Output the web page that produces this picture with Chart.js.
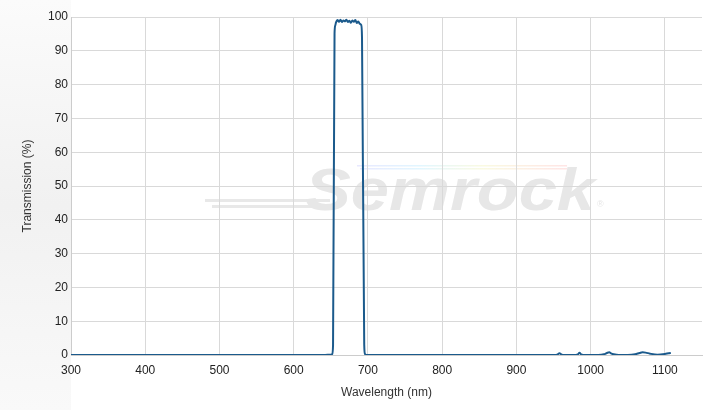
<!DOCTYPE html>
<html>

<head>
  <meta charset="UTF-8">
  <script src="https://cdn.jsdelivr.net/npm/chart.js"></script>
  <title>Semrock | Transmission</title>
  <style>
    html, body { margin: 0; padding: 0; background: #fff; }
    #grafico { width: 706px; height: 410px; }
  </style>
</head>

<body>
  <div id="grafico">
    <canvas id="myChart"></canvas>
  </div>
</body>

</html>

<script>
  // valores
  var wavelength = [300, 400, 500, 600, 640, 650, 652, 653, 655, 656, 657, 659, 661, 663, 665, 667, 669,
    671, 673, 675, 677, 679, 681, 683, 685, 687, 689, 691, 692, 695, 696, 699, 750, 800, 900, 950,
    955, 958, 961, 965, 980, 983, 985, 987, 990, 1010, 1018, 1022, 1025, 1028, 1035, 1050, 1060, 1066, 1070,
    1074, 1080, 1090, 1100, 1105, 1108];

  var transmission = [0, 0, 0, 0, 0, 0.1, 0.3, 3, 95, 97.5, 98.4, 99.1, 98.6, 99.2, 98.5, 99.0, 98.7,
    99.2, 98.5, 98.9, 98.3, 99.0, 98.6, 99.1, 98.2, 98.7, 98.0, 97.6, 94, 3, 0.3, 0, 0, 0, 0, 0,
    0.1, 0.5, 0.1, 0, 0, 0.2, 0.7, 0.2, 0, 0, 0.2, 0.6, 0.8, 0.4, 0.1, 0, 0.2, 0.6, 0.8, 0.7, 0.4, 0.1, 0.3, 0.5, 0.6];

  var yTicks = [0, 10, 20, 30, 40, 50, 60, 70, 80, 90, 100];
  var xTicks = [300, 400, 500, 600, 700, 800, 900, 1000, 1100];

  var pontos = [];
  for (var i = 0; i < wavelength.length; i++) {
    pontos.push({ x: wavelength[i], y: transmission[i] });
  }

  var fonte = { family: "'Liberation Sans', Arial, sans-serif", size: 12 };

  // fundo cinza na lateral + marca d'agua
  var fundo = {
    id: 'fundo',
    beforeDraw: function (chart) {
      var ctx = chart.ctx;
      var area = chart.chartArea;
      ctx.save();
      var g = ctx.createLinearGradient(0, 0, 0, chart.height);
      g.addColorStop(0, '#fbfbfb');
      g.addColorStop(0.5, '#f1f1f1');
      g.addColorStop(1, '#f9f9f9');
      ctx.fillStyle = g;
      ctx.fillRect(0, 0, area.left, chart.height);

      // linhas do logo
      ctx.fillStyle = '#e8e8e8';
      ctx.fillRect(205, 199, 125, 3);
      ctx.fillRect(212, 205, 118, 3);

      // faixa colorida
      var arco = ctx.createLinearGradient(357, 0, 567, 0);
      arco.addColorStop(0, 'rgba(190,190,255,0.35)');
      arco.addColorStop(0.3, 'rgba(170,230,255,0.35)');
      arco.addColorStop(0.6, 'rgba(240,240,170,0.35)');
      arco.addColorStop(1, 'rgba(255,180,180,0.35)');
      ctx.fillStyle = arco;
      ctx.fillRect(357, 165, 210, 1.5);
      ctx.fillRect(360, 168, 207, 1.5);

      // texto
      ctx.fillStyle = '#e7e7e7';
      ctx.font = "italic bold 60px 'Liberation Sans', Arial, sans-serif";
      ctx.textBaseline = 'alphabetic';
      var w = ctx.measureText('Semrock').width;
      ctx.translate(305, 210);
      ctx.scale(290 / w, 1);
      ctx.fillText('Semrock', 0, 0);
      ctx.setTransform(1, 0, 0, 1, 0, 0);
      ctx.font = "9px 'Liberation Sans', Arial, sans-serif";
      ctx.fillText('®', 597, 207);
      ctx.restore();
    }
  };

  var config = {
    type: 'line',
    data: {
      datasets: [{
        data: pontos,
        borderColor: '#1b5a8c',
        borderWidth: 2,
        borderJoinStyle: 'round',
        pointRadius: 0,
        cubicInterpolationMode: 'monotone',
        fill: false
      }]
    },
    options: {
      responsive: false,
      animation: false,
      layout: { padding: { top: 17, right: 4, left: 0, bottom: 0 } },
      plugins: {
        legend: { display: false },
        tooltip: { enabled: false }
      },
      scales: {
        x: {
          type: 'linear',
          min: 300,
          max: 1150,
          afterBuildTicks: function (axis) {
            axis.ticks = xTicks.map(function (v) { return { value: v }; });
          },
          afterFit: function (axis) { axis.height = 55; },
          grid: { color: '#d9d9d9', drawTicks: false },
          border: { color: '#cccccc' },
          ticks: {
            color: '#222', font: fonte, padding: 8, maxRotation: 0,
            callback: function (v) { return String(v); }
          },
          title: {
            display: true,
            text: 'Wavelength (nm)',
            color: '#333',
            font: fonte,
            padding: { top: 0, bottom: 10 }
          }
        },
        y: {
          min: 0,
          max: 100,
          afterBuildTicks: function (axis) {
            axis.ticks = yTicks.map(function (v) { return { value: v }; });
          },
          afterFit: function (axis) { axis.width = 71; },
          grid: { color: '#d9d9d9', drawTicks: false },
          border: { color: '#cccccc' },
          ticks: { color: '#222', font: fonte, padding: 3 },
          title: {
            display: true,
            text: 'Transmission (%)',
            color: '#333',
            font: fonte,
            padding: { top: 20, bottom: 0 }
          }
        }
      }
    },
    plugins: [fundo]
  };

  var canvas = document.getElementById('myChart');
  canvas.width = 706;
  canvas.height = 410;
  const myChart = new Chart(canvas, config);
</script>
